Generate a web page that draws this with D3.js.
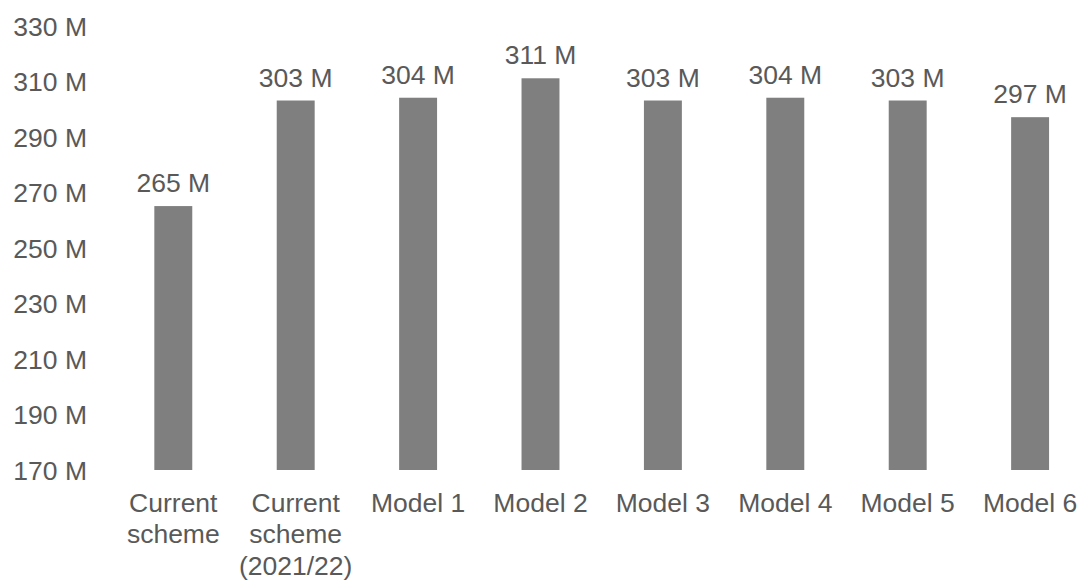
<!DOCTYPE html>
<html>
<head>
<meta charset="utf-8">
<script src="https://cdn.jsdelivr.net/npm/d3@7"></script>
<style>
  html, body { margin: 0; padding: 0; background: #fff; }
  svg { display: block; }
  text { font-family: "Liberation Sans", Arial, sans-serif; fill: #595959; }
</style>
</head>
<body>
<svg id="chart" width="1082" height="580"></svg>
<script>
const categories = [
  ["Current", "scheme"],
  ["Current", "scheme", "(2021/22)"],
  ["Model 1"],
  ["Model 2"],
  ["Model 3"],
  ["Model 4"],
  ["Model 5"],
  ["Model 6"]
];
const values = [265, 303, 304, 311, 303, 304, 303, 297];
const yTicks = [170, 190, 210, 230, 250, 270, 290, 310, 330];

const svg = d3.select("#chart");
const fontSize = 26.5;

const x = d3.scaleBand()
  .domain(d3.range(categories.length))
  .range([112.1, 1091.3])
  .paddingInner(0.69)
  .paddingOuter(0.345);

const y = d3.scaleLinear()
  .domain([170, 330])
  .range([470, 25.5]);

// Y axis labels (no line, no ticks)
const yAxis = d3.axisLeft(y)
  .tickValues(yTicks)
  .tickFormat(d => d + " M")
  .tickSize(0)
  .tickPadding(0);
const yg = svg.append("g").attr("transform", "translate(87,0)").call(yAxis);
yg.select(".domain").remove();
yg.selectAll("text")
  .attr("font-size", fontSize)
  .attr("font-family", "Liberation Sans, Arial, sans-serif")
  .style("fill", "#595959")
  .attr("dy", "0.36em");

// Bars
svg.append("g").selectAll("rect")
  .data(values)
  .join("rect")
  .attr("x", (d, i) => x(i))
  .attr("width", x.bandwidth())
  .attr("y", d => y(d))
  .attr("height", d => y(170) - y(d))
  .attr("fill", "#7f7f7f");

// Value labels
svg.append("g").selectAll("text")
  .data(values)
  .join("text")
  .attr("x", (d, i) => x(i) + x.bandwidth() / 2)
  .attr("y", d => y(d) - 14)
  .attr("text-anchor", "middle")
  .attr("font-size", fontSize)
  .text(d => d + " M");

// Category labels
const xg = svg.append("g");
categories.forEach((lines, i) => {
  const t = xg.append("text")
    .attr("x", x(i) + x.bandwidth() / 2)
    .attr("y", 511.5)
    .attr("text-anchor", "middle")
    .attr("font-size", fontSize);
  lines.forEach((ln, j) => {
    t.append("tspan")
      .attr("x", x(i) + x.bandwidth() / 2)
      .attr("dy", j === 0 ? 0 : 31.5)
      .text(ln);
  });
});
</script>
</body>
</html>
